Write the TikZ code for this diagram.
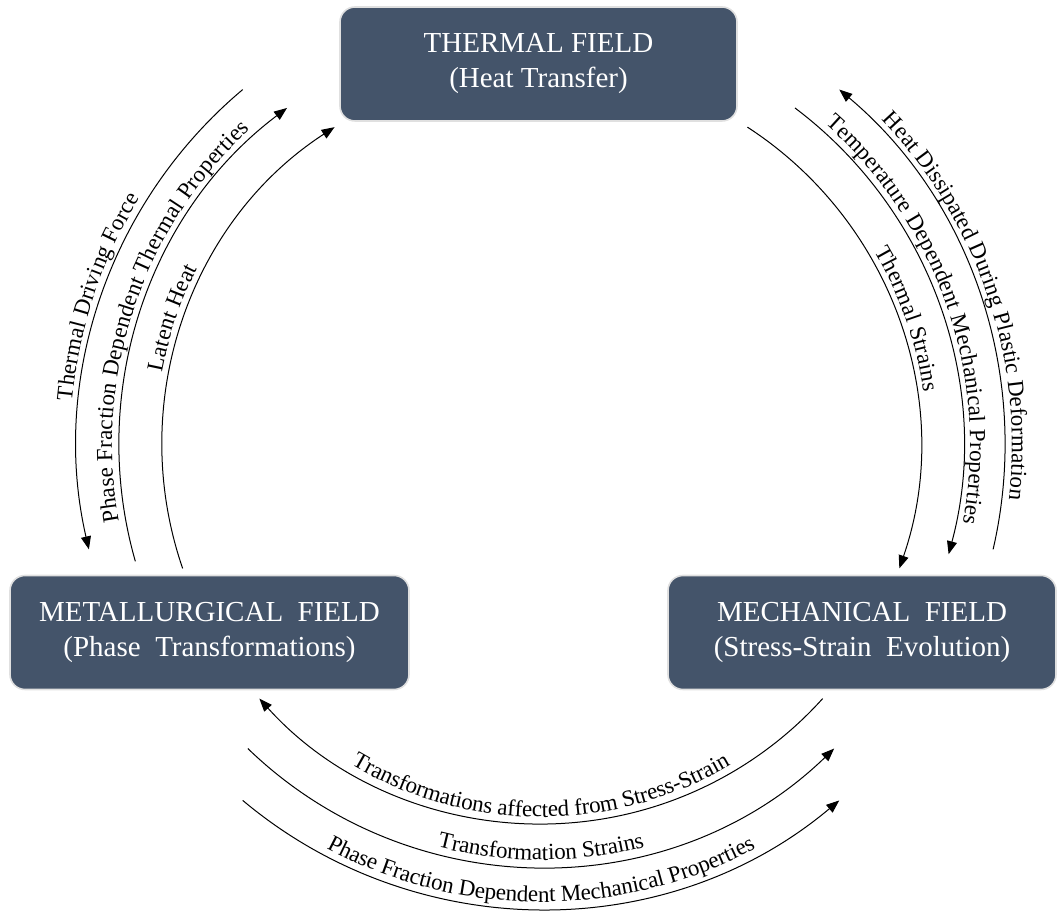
\documentclass[tikz,border=0pt]{standalone}
\usepackage{fontspec}
\setmainfont{Liberation Serif}
\usepackage{xcolor}
\usetikzlibrary{arrows.meta,decorations.text}

\definecolor{fieldblue}{HTML}{44546A}
\newcommand{\boxfont}{\fontsize{14.5}{17.5}\selectfont}
\newcommand{\lblfont}{\fontsize{11.5}{13}\selectfont}

\begin{document}
\begin{tikzpicture}[
    x=0.5pt, y=0.5pt,
    every node/.style={align=center},
    field/.style={rectangle, rounded corners=7.5pt, draw=black!12, line width=0.8pt, fill=fieldblue, text=white, font=\boxfont, minimum height=57pt, inner sep=0pt},
    flow/.style={line width=0.5pt, >={Triangle[length=6.5pt, width=5pt]}},
    along/.style={postaction={decorate, decoration={text along path, text align=center, raise=3.5pt, text={|\lblfont|#1}}}}
]
\useasboundingbox (0,0) rectangle (1057,911);

% the three fields
\node[field, minimum width=198.5pt] (thermal) at (538.5, 847) {THERMAL FIELD\\(Heat Transfer)};
\node[field, minimum width=199.5pt] (metal) at (209.5, 278.5) {METALLURGICAL\ \ FIELD\\(Phase\ \ Transformations)};
\node[field, minimum width=194pt] (mech) at (862, 278.5) {MECHANICAL\ \ FIELD\\(Stress-Strain\ \ Evolution)};

% common centre of the coupling arcs
\coordinate (ctr) at (541, 466);

% Thermal <-> Metallurgical
\path (ctr) ++(193:232pt) coordinate (tdf);
\path (ctr) ++(196:211pt) coordinate (pftp);
\path (ctr) ++(199:189.5pt) coordinate (lat);
\draw[flow, <-, along={Thermal Driving Force}] (tdf) arc[start angle=193, end angle=130, radius=232pt];
\draw[flow, ->, along={Phase Fraction Dependent Thermal Properties}] (pftp) arc[start angle=196, end angle=127, radius=211pt];
\draw[flow, ->, along={Latent Heat}] (lat) arc[start angle=199, end angle=123, radius=189.5pt];

% Thermal <-> Mechanical
\path (ctr) ++(50:232pt) coordinate (hdp);
\path (ctr) ++(53:211pt) coordinate (tdmp);
\path (ctr) ++(57:189.5pt) coordinate (ts);
\draw[flow, <-, along={Heat Dissipated During Plastic Deformation}] (hdp) arc[start angle=50, end angle=-13, radius=232pt];
\draw[flow, ->, along={Temperature Dependent Mechanical Properties}] (tdmp) arc[start angle=53, end angle=-15, radius=211pt];
\draw[flow, ->, along={Thermal Strains}] (ts) arc[start angle=57, end angle=-19, radius=189.5pt];

% Metallurgical <-> Mechanical
\path (ctr) ++(222:189.5pt) coordinate (tass);
\path (ctr) ++(226:211pt) coordinate (trs);
\path (ctr) ++(230:232pt) coordinate (pfmp);
\draw[flow, <-, along={Transformations affected from Stress-Strain}] (tass) arc[start angle=222, end angle=318, radius=189.5pt];
\draw[flow, ->, along={Transformation Strains}] (trs) arc[start angle=226, end angle=314, radius=211pt];
\draw[flow, ->, along={Phase Fraction Dependent Mechanical Properties}] (pfmp) arc[start angle=230, end angle=310, radius=232pt];

\end{tikzpicture}
\end{document}
